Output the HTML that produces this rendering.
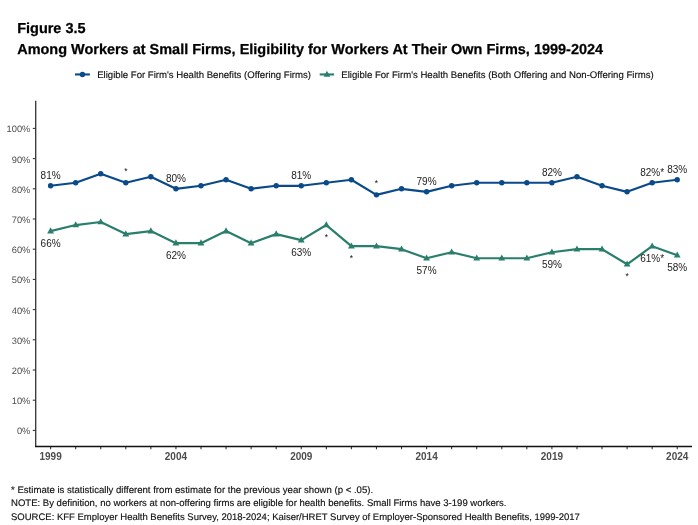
<!DOCTYPE html>
<html><head><meta charset="utf-8"><title>Figure 3.5</title>
<style>
html,body{margin:0;padding:0;background:#fff;}
body{width:698px;height:525px;position:relative;overflow:hidden;font-family:"Liberation Sans",Arial,sans-serif;text-rendering:geometricPrecision;}
.t{position:absolute;left:17.2px;font-weight:bold;font-size:14.47px;color:#000;white-space:nowrap;line-height:1;-webkit-text-stroke:0.25px #000;}
.fn{position:absolute;left:11.0px;font-size:9.55px;color:#111;white-space:nowrap;line-height:1;-webkit-text-stroke:0.15px #111;}
svg text{font-family:"Liberation Sans",Arial,sans-serif;text-rendering:geometricPrecision;}
.yl{font-size:9.3px;fill:#4d4d4d;}
.xl{font-size:10px;font-weight:bold;fill:#4d4d4d;text-rendering:auto;}
.dl{font-size:10px;fill:#222;text-rendering:auto;}
.as{font-size:8.5px;fill:#111;text-rendering:auto;}
.lg{font-size:9.6px;fill:#111;stroke:#111;stroke-width:0.15px;}
</style></head><body>
<div class="t" style="top:22.3px">Figure 3.5</div>
<div class="t" style="top:43.3px">Among Workers at Small Firms, Eligibility for Workers At Their Own Firms, 1999-2024</div>
<svg width="698" height="525" viewBox="0 0 698 525" style="position:absolute;left:0;top:0">
<line x1="32.8" y1="430.40" x2="35.5" y2="430.40" stroke="#333" stroke-width="1.07"/>
<text x="30.4" y="434.40" text-anchor="end" class="yl">0%</text>
<line x1="32.8" y1="400.20" x2="35.5" y2="400.20" stroke="#333" stroke-width="1.07"/>
<text x="30.4" y="404.20" text-anchor="end" class="yl">10%</text>
<line x1="32.8" y1="370.00" x2="35.5" y2="370.00" stroke="#333" stroke-width="1.07"/>
<text x="30.4" y="374.00" text-anchor="end" class="yl">20%</text>
<line x1="32.8" y1="339.80" x2="35.5" y2="339.80" stroke="#333" stroke-width="1.07"/>
<text x="30.4" y="343.80" text-anchor="end" class="yl">30%</text>
<line x1="32.8" y1="309.60" x2="35.5" y2="309.60" stroke="#333" stroke-width="1.07"/>
<text x="30.4" y="313.60" text-anchor="end" class="yl">40%</text>
<line x1="32.8" y1="279.40" x2="35.5" y2="279.40" stroke="#333" stroke-width="1.07"/>
<text x="30.4" y="283.40" text-anchor="end" class="yl">50%</text>
<line x1="32.8" y1="249.20" x2="35.5" y2="249.20" stroke="#333" stroke-width="1.07"/>
<text x="30.4" y="253.20" text-anchor="end" class="yl">60%</text>
<line x1="32.8" y1="219.00" x2="35.5" y2="219.00" stroke="#333" stroke-width="1.07"/>
<text x="30.4" y="223.00" text-anchor="end" class="yl">70%</text>
<line x1="32.8" y1="188.80" x2="35.5" y2="188.80" stroke="#333" stroke-width="1.07"/>
<text x="30.4" y="192.80" text-anchor="end" class="yl">80%</text>
<line x1="32.8" y1="158.60" x2="35.5" y2="158.60" stroke="#333" stroke-width="1.07"/>
<text x="30.4" y="162.60" text-anchor="end" class="yl">90%</text>
<line x1="32.8" y1="128.40" x2="35.5" y2="128.40" stroke="#333" stroke-width="1.07"/>
<text x="30.4" y="132.40" text-anchor="end" class="yl">100%</text>
<line x1="50.60" y1="446.5" x2="50.60" y2="449.2" stroke="#333" stroke-width="1.07"/>
<line x1="75.67" y1="446.5" x2="75.67" y2="449.2" stroke="#333" stroke-width="1.07"/>
<line x1="100.73" y1="446.5" x2="100.73" y2="449.2" stroke="#333" stroke-width="1.07"/>
<line x1="125.80" y1="446.5" x2="125.80" y2="449.2" stroke="#333" stroke-width="1.07"/>
<line x1="150.86" y1="446.5" x2="150.86" y2="449.2" stroke="#333" stroke-width="1.07"/>
<line x1="175.93" y1="446.5" x2="175.93" y2="449.2" stroke="#333" stroke-width="1.07"/>
<line x1="200.99" y1="446.5" x2="200.99" y2="449.2" stroke="#333" stroke-width="1.07"/>
<line x1="226.06" y1="446.5" x2="226.06" y2="449.2" stroke="#333" stroke-width="1.07"/>
<line x1="251.12" y1="446.5" x2="251.12" y2="449.2" stroke="#333" stroke-width="1.07"/>
<line x1="276.19" y1="446.5" x2="276.19" y2="449.2" stroke="#333" stroke-width="1.07"/>
<line x1="301.25" y1="446.5" x2="301.25" y2="449.2" stroke="#333" stroke-width="1.07"/>
<line x1="326.32" y1="446.5" x2="326.32" y2="449.2" stroke="#333" stroke-width="1.07"/>
<line x1="351.38" y1="446.5" x2="351.38" y2="449.2" stroke="#333" stroke-width="1.07"/>
<line x1="376.45" y1="446.5" x2="376.45" y2="449.2" stroke="#333" stroke-width="1.07"/>
<line x1="401.51" y1="446.5" x2="401.51" y2="449.2" stroke="#333" stroke-width="1.07"/>
<line x1="426.58" y1="446.5" x2="426.58" y2="449.2" stroke="#333" stroke-width="1.07"/>
<line x1="451.64" y1="446.5" x2="451.64" y2="449.2" stroke="#333" stroke-width="1.07"/>
<line x1="476.71" y1="446.5" x2="476.71" y2="449.2" stroke="#333" stroke-width="1.07"/>
<line x1="501.77" y1="446.5" x2="501.77" y2="449.2" stroke="#333" stroke-width="1.07"/>
<line x1="526.84" y1="446.5" x2="526.84" y2="449.2" stroke="#333" stroke-width="1.07"/>
<line x1="551.90" y1="446.5" x2="551.90" y2="449.2" stroke="#333" stroke-width="1.07"/>
<line x1="576.97" y1="446.5" x2="576.97" y2="449.2" stroke="#333" stroke-width="1.07"/>
<line x1="602.03" y1="446.5" x2="602.03" y2="449.2" stroke="#333" stroke-width="1.07"/>
<line x1="627.10" y1="446.5" x2="627.10" y2="449.2" stroke="#333" stroke-width="1.07"/>
<line x1="652.16" y1="446.5" x2="652.16" y2="449.2" stroke="#333" stroke-width="1.07"/>
<line x1="677.23" y1="446.5" x2="677.23" y2="449.2" stroke="#333" stroke-width="1.07"/>
<text x="50.60" y="459.6" text-anchor="middle" class="xl">1999</text>
<text x="175.93" y="459.6" text-anchor="middle" class="xl">2004</text>
<text x="301.25" y="459.6" text-anchor="middle" class="xl">2009</text>
<text x="426.58" y="459.6" text-anchor="middle" class="xl">2014</text>
<text x="551.90" y="459.6" text-anchor="middle" class="xl">2019</text>
<text x="677.23" y="459.6" text-anchor="middle" class="xl">2024</text>
<line x1="35.7" y1="100.8" x2="35.7" y2="446.9" stroke="#333" stroke-width="1.3"/>
<line x1="35.05" y1="446.45" x2="692" y2="446.45" stroke="#111" stroke-width="1.45"/>
<polyline points="50.60,185.78 75.67,182.76 100.73,173.70 125.80,182.76 150.86,176.72 175.93,188.80 200.99,185.78 226.06,179.74 251.12,188.80 276.19,185.78 301.25,185.78 326.32,182.76 351.38,179.74 376.45,194.84 401.51,188.80 426.58,191.82 451.64,185.78 476.71,182.76 501.77,182.76 526.84,182.76 551.90,182.76 576.97,176.72 602.03,185.78 627.10,191.82 652.16,182.76 677.23,179.74" fill="none" stroke="#0a4a8a" stroke-width="2.2" stroke-linejoin="round"/>
<polyline points="50.60,231.08 75.67,225.04 100.73,222.02 125.80,234.10 150.86,231.08 175.93,243.16 200.99,243.16 226.06,231.08 251.12,243.16 276.19,234.10 301.25,240.14 326.32,225.04 351.38,246.18 376.45,246.18 401.51,249.20 426.58,258.26 451.64,252.22 476.71,258.26 501.77,258.26 526.84,258.26 551.90,252.22 576.97,249.20 602.03,249.20 627.10,264.30 652.16,246.18 677.23,255.24" fill="none" stroke="#2a7f6c" stroke-width="2.2" stroke-linejoin="round"/>
<circle cx="50.60" cy="185.78" r="2.7" fill="#0a4a8a"/>
<circle cx="75.67" cy="182.76" r="2.7" fill="#0a4a8a"/>
<circle cx="100.73" cy="173.70" r="2.7" fill="#0a4a8a"/>
<circle cx="125.80" cy="182.76" r="2.7" fill="#0a4a8a"/>
<circle cx="150.86" cy="176.72" r="2.7" fill="#0a4a8a"/>
<circle cx="175.93" cy="188.80" r="2.7" fill="#0a4a8a"/>
<circle cx="200.99" cy="185.78" r="2.7" fill="#0a4a8a"/>
<circle cx="226.06" cy="179.74" r="2.7" fill="#0a4a8a"/>
<circle cx="251.12" cy="188.80" r="2.7" fill="#0a4a8a"/>
<circle cx="276.19" cy="185.78" r="2.7" fill="#0a4a8a"/>
<circle cx="301.25" cy="185.78" r="2.7" fill="#0a4a8a"/>
<circle cx="326.32" cy="182.76" r="2.7" fill="#0a4a8a"/>
<circle cx="351.38" cy="179.74" r="2.7" fill="#0a4a8a"/>
<circle cx="376.45" cy="194.84" r="2.7" fill="#0a4a8a"/>
<circle cx="401.51" cy="188.80" r="2.7" fill="#0a4a8a"/>
<circle cx="426.58" cy="191.82" r="2.7" fill="#0a4a8a"/>
<circle cx="451.64" cy="185.78" r="2.7" fill="#0a4a8a"/>
<circle cx="476.71" cy="182.76" r="2.7" fill="#0a4a8a"/>
<circle cx="501.77" cy="182.76" r="2.7" fill="#0a4a8a"/>
<circle cx="526.84" cy="182.76" r="2.7" fill="#0a4a8a"/>
<circle cx="551.90" cy="182.76" r="2.7" fill="#0a4a8a"/>
<circle cx="576.97" cy="176.72" r="2.7" fill="#0a4a8a"/>
<circle cx="602.03" cy="185.78" r="2.7" fill="#0a4a8a"/>
<circle cx="627.10" cy="191.82" r="2.7" fill="#0a4a8a"/>
<circle cx="652.16" cy="182.76" r="2.7" fill="#0a4a8a"/>
<circle cx="677.23" cy="179.74" r="2.7" fill="#0a4a8a"/>
<polygon points="50.60,227.28 47.20,233.38 54.00,233.38" fill="#2a7f6c"/>
<polygon points="75.67,221.24 72.27,227.34 79.07,227.34" fill="#2a7f6c"/>
<polygon points="100.73,218.22 97.33,224.32 104.13,224.32" fill="#2a7f6c"/>
<polygon points="125.80,230.30 122.40,236.40 129.20,236.40" fill="#2a7f6c"/>
<polygon points="150.86,227.28 147.46,233.38 154.26,233.38" fill="#2a7f6c"/>
<polygon points="175.93,239.36 172.53,245.46 179.33,245.46" fill="#2a7f6c"/>
<polygon points="200.99,239.36 197.59,245.46 204.39,245.46" fill="#2a7f6c"/>
<polygon points="226.06,227.28 222.66,233.38 229.46,233.38" fill="#2a7f6c"/>
<polygon points="251.12,239.36 247.72,245.46 254.52,245.46" fill="#2a7f6c"/>
<polygon points="276.19,230.30 272.79,236.40 279.58,236.40" fill="#2a7f6c"/>
<polygon points="301.25,236.34 297.85,242.44 304.65,242.44" fill="#2a7f6c"/>
<polygon points="326.32,221.24 322.92,227.34 329.72,227.34" fill="#2a7f6c"/>
<polygon points="351.38,242.38 347.98,248.48 354.78,248.48" fill="#2a7f6c"/>
<polygon points="376.45,242.38 373.05,248.48 379.85,248.48" fill="#2a7f6c"/>
<polygon points="401.51,245.40 398.11,251.50 404.91,251.50" fill="#2a7f6c"/>
<polygon points="426.58,254.46 423.18,260.56 429.98,260.56" fill="#2a7f6c"/>
<polygon points="451.64,248.42 448.24,254.52 455.04,254.52" fill="#2a7f6c"/>
<polygon points="476.71,254.46 473.31,260.56 480.11,260.56" fill="#2a7f6c"/>
<polygon points="501.77,254.46 498.37,260.56 505.17,260.56" fill="#2a7f6c"/>
<polygon points="526.84,254.46 523.44,260.56 530.24,260.56" fill="#2a7f6c"/>
<polygon points="551.90,248.42 548.50,254.52 555.30,254.52" fill="#2a7f6c"/>
<polygon points="576.97,245.40 573.57,251.50 580.37,251.50" fill="#2a7f6c"/>
<polygon points="602.03,245.40 598.63,251.50 605.43,251.50" fill="#2a7f6c"/>
<polygon points="627.10,260.50 623.70,266.60 630.50,266.60" fill="#2a7f6c"/>
<polygon points="652.16,242.38 648.76,248.48 655.56,248.48" fill="#2a7f6c"/>
<polygon points="677.23,251.44 673.83,257.54 680.62,257.54" fill="#2a7f6c"/>
<text x="50.60" y="178.68" text-anchor="middle" class="dl">81%</text>
<text x="175.93" y="181.70" text-anchor="middle" class="dl">80%</text>
<text x="301.25" y="178.68" text-anchor="middle" class="dl">81%</text>
<text x="426.58" y="184.72" text-anchor="middle" class="dl">79%</text>
<text x="551.90" y="175.66" text-anchor="middle" class="dl">82%</text>
<text x="652.16" y="175.66" text-anchor="middle" class="dl">82%*</text>
<text x="677.23" y="172.64" text-anchor="middle" class="dl">83%</text>
<text x="125.80" y="174.26" text-anchor="middle" class="as">*</text>
<text x="376.45" y="186.34" text-anchor="middle" class="as">*</text>
<text x="50.60" y="246.98" text-anchor="middle" class="dl">66%</text>
<text x="175.93" y="259.06" text-anchor="middle" class="dl">62%</text>
<text x="301.25" y="256.04" text-anchor="middle" class="dl">63%</text>
<text x="426.58" y="274.16" text-anchor="middle" class="dl">57%</text>
<text x="551.90" y="268.12" text-anchor="middle" class="dl">59%</text>
<text x="652.16" y="262.08" text-anchor="middle" class="dl">61%*</text>
<text x="677.23" y="271.14" text-anchor="middle" class="dl">58%</text>
<text x="326.32" y="239.94" text-anchor="middle" class="as">*</text>
<text x="351.38" y="261.08" text-anchor="middle" class="as">*</text>
<text x="627.10" y="279.20" text-anchor="middle" class="as">*</text>
<line x1="75" y1="74.45" x2="89.9" y2="74.45" stroke="#0a4a8a" stroke-width="2.1"/>
<circle cx="82.45" cy="74.45" r="2.7" fill="#0a4a8a"/>
<text x="97.2" y="78.4" class="lg">Eligible For Firm's Health Benefits (Offering Firms)</text>
<line x1="319.7" y1="74.45" x2="334.1" y2="74.45" stroke="#2a7f6c" stroke-width="2.1"/>
<polygon points="326.95,70.65 323.55,76.75 330.35,76.75" fill="#2a7f6c"/>
<text x="341.3" y="78.4" class="lg" style="font-size:9.615px">Eligible For Firm's Health Benefits (Both Offering and Non-Offering Firms)</text>
</svg>
<div class="fn" style="top:486.1px;font-size:9.6px">* Estimate is statistically different from estimate for the previous year shown (p &lt; .05).</div>
<div class="fn" style="top:499.2px;font-size:9.56px">NOTE: By definition, no workers at non-offering firms are eligible for health benefits. Small Firms have 3-199 workers.</div>
<div class="fn" style="top:512.9px;font-size:9.51px">SOURCE: KFF Employer Health Benefits Survey, 2018-2024; Kaiser/HRET Survey of Employer-Sponsored Health Benefits, 1999-2017</div>
</body></html>
